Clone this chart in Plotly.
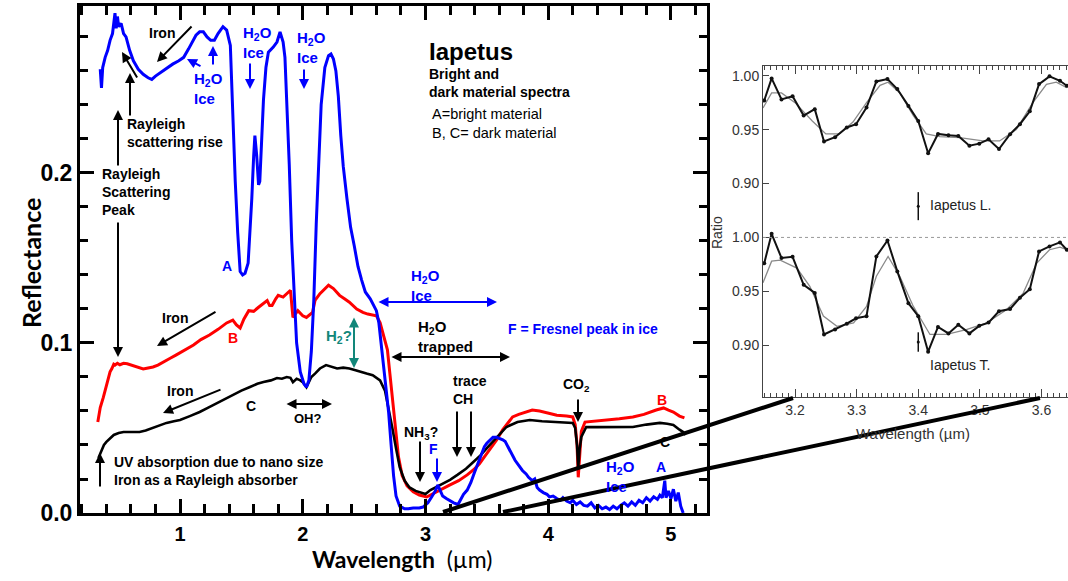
import plotly.graph_objects as go

W, H = 1068, 581

# ---------------- main spectra (wavelength um, reflectance) ----------------
a_x = [0.35, 0.36, 0.37, 0.39, 0.41, 0.43, 0.45, 0.46, 0.47, 0.48, 0.49, 0.50, 0.52, 0.54, 0.56, 0.59,
       0.62, 0.66, 0.70, 0.74, 0.77, 0.80, 0.84, 0.89, 0.94, 0.99, 1.03, 1.07, 1.10, 1.13, 1.16, 1.19,
       1.22, 1.25, 1.28, 1.31, 1.35, 1.38, 1.41, 1.42, 1.43, 1.45, 1.47, 1.49, 1.51, 1.53, 1.555, 1.57,
       1.585, 1.60, 1.61, 1.625, 1.64, 1.65, 1.665, 1.68, 1.70, 1.72, 1.76, 1.79, 1.815, 1.84, 1.855,
       1.87, 1.89, 1.91, 1.93, 1.95, 1.98, 2.01, 2.03, 2.05, 2.07, 2.09, 2.11, 2.13, 2.15, 2.18, 2.21,
       2.23, 2.25, 2.27, 2.29, 2.31, 2.33, 2.36, 2.39, 2.42, 2.45, 2.48, 2.51, 2.55, 2.60, 2.62, 2.64,
       2.67, 2.70, 2.72, 2.74, 2.76, 2.79, 2.83, 2.86, 2.90, 2.95, 2.98, 3.02, 3.05, 3.08, 3.10, 3.12,
       3.14, 3.17, 3.20, 3.23, 3.265, 3.29, 3.31, 3.34, 3.37, 3.40, 3.42, 3.45, 3.48, 3.50, 3.53, 3.55,
       3.58, 3.60, 3.63, 3.65, 3.68, 3.71, 3.73, 3.76, 3.79, 3.82, 3.84, 3.87, 3.89, 3.91, 3.93, 3.96,
       3.99, 4.01, 4.04, 4.07, 4.10, 4.12, 4.15, 4.18, 4.20, 4.23, 4.26, 4.29, 4.32, 4.35, 4.38, 4.41,
       4.44, 4.47, 4.50, 4.53, 4.56, 4.59, 4.62, 4.65, 4.68, 4.71, 4.74, 4.77, 4.80, 4.83, 4.86, 4.89,
       4.91, 4.93, 4.95, 4.96, 4.98, 5.00, 5.02, 5.04, 5.06, 5.08, 5.10]
a_y = [0.261, 0.250, 0.262, 0.268, 0.272, 0.278, 0.282, 0.289, 0.294, 0.285, 0.292, 0.286, 0.288, 0.282,
       0.280, 0.272, 0.266, 0.261, 0.258, 0.256, 0.255, 0.257, 0.259, 0.262, 0.264, 0.266, 0.268, 0.273,
       0.277, 0.281, 0.283, 0.283, 0.280, 0.278, 0.278, 0.282, 0.286, 0.284, 0.275, 0.255, 0.225, 0.195,
       0.165, 0.142, 0.140, 0.141, 0.147, 0.163, 0.185, 0.210, 0.222, 0.210, 0.193, 0.195, 0.220, 0.243,
       0.262, 0.271, 0.274, 0.277, 0.283, 0.277, 0.268, 0.245, 0.205, 0.160, 0.125, 0.100, 0.083, 0.076,
       0.074, 0.078, 0.095, 0.125, 0.170, 0.210, 0.240, 0.262, 0.269, 0.270, 0.267, 0.260, 0.245, 0.222,
       0.204, 0.185, 0.168, 0.157, 0.145, 0.137, 0.130, 0.126, 0.119, 0.112, 0.098, 0.078, 0.059, 0.040,
       0.022, 0.010, 0.004, 0.0025, 0.0025, 0.003, 0.003, 0.0035, 0.006, 0.0094, 0.013, 0.0165, 0.013,
       0.010, 0.0085, 0.007, 0.006, 0.005, 0.008, 0.011, 0.0135, 0.018, 0.024, 0.028, 0.034, 0.039, 0.041,
       0.043, 0.0445, 0.0445, 0.044, 0.043, 0.042, 0.038, 0.034, 0.031, 0.028, 0.025, 0.023, 0.021, 0.019,
       0.020, 0.015, 0.0135, 0.012, 0.011, 0.0095, 0.010, 0.0085, 0.0075, 0.009, 0.007, 0.006, 0.0075,
       0.005, 0.0065, 0.0045, 0.004, 0.006, 0.003, 0.0045, 0.0025, 0.0035, 0.002, 0.004, 0.0025, 0.0045,
       0.006, 0.004, 0.0065, 0.0045, 0.0075, 0.006, 0.009, 0.007, 0.0095, 0.008, 0.0105, 0.009, 0.019,
       0.009, 0.013, 0.0085, 0.014, 0.007, 0.012, 0.004, 0.0]

b_x = [0.33, 0.35, 0.375, 0.40, 0.415, 0.43, 0.445, 0.46, 0.47, 0.49, 0.51, 0.54, 0.57, 0.60, 0.62, 0.66,
       0.70, 0.74, 0.78, 0.82, 0.86, 0.92, 0.97, 1.04, 1.11, 1.17, 1.24, 1.31, 1.38, 1.43, 1.46, 1.49,
       1.52, 1.56, 1.60, 1.64, 1.67, 1.71, 1.73, 1.75, 1.78, 1.80, 1.84, 1.87, 1.90, 1.92, 1.96, 2.00,
       2.03, 2.08, 2.10, 2.14, 2.18, 2.21, 2.25, 2.30, 2.34, 2.38, 2.44, 2.49, 2.53, 2.57, 2.60, 2.63,
       2.66, 2.69, 2.71, 2.74, 2.76, 2.78, 2.81, 2.85, 2.90, 2.95, 3.01, 3.05, 3.09, 3.15, 3.20, 3.27,
       3.34, 3.40, 3.44, 3.48, 3.52, 3.58, 3.63, 3.67, 3.71, 3.76, 3.82, 3.87, 3.93, 3.99, 4.07, 4.15,
       4.20, 4.22, 4.235, 4.245, 4.255, 4.27, 4.30, 4.38, 4.47, 4.58, 4.69, 4.78, 4.88, 4.94, 4.98, 5.02,
       5.07, 5.11]
b_y = [0.0535, 0.062, 0.068, 0.075, 0.078, 0.083, 0.085, 0.0875, 0.087, 0.088, 0.0872, 0.088, 0.0878,
       0.087, 0.0865, 0.0858, 0.0847, 0.0853, 0.0859, 0.087, 0.0888, 0.091, 0.093, 0.096, 0.0988, 0.102,
       0.1047, 0.108, 0.1118, 0.1135, 0.1106, 0.1088, 0.114, 0.119, 0.1186, 0.121, 0.1225, 0.125, 0.122,
       0.122, 0.126, 0.128, 0.127, 0.129, 0.131, 0.115, 0.119, 0.116, 0.115, 0.118, 0.125, 0.129, 0.132,
       0.134, 0.132, 0.128, 0.126, 0.124, 0.120, 0.118, 0.117, 0.1165, 0.116, 0.112, 0.104, 0.096, 0.082,
       0.062, 0.048, 0.033, 0.022, 0.016, 0.0125, 0.0106, 0.0094, 0.011, 0.0124, 0.0145, 0.0165, 0.019,
       0.0224, 0.026, 0.029, 0.033, 0.037, 0.043, 0.049, 0.053, 0.0565, 0.058, 0.0594, 0.0606, 0.060,
       0.059, 0.0575, 0.057, 0.0565, 0.052, 0.040, 0.021, 0.035, 0.048, 0.0535, 0.054, 0.0547, 0.0555,
       0.0565, 0.058, 0.0606, 0.0618, 0.0605, 0.0594, 0.057, 0.0559]

c_x = [0.335, 0.36, 0.38, 0.40, 0.43, 0.46, 0.50, 0.54, 0.60, 0.67, 0.72, 0.78, 0.84, 0.89, 0.95, 1.00,
       1.08, 1.16, 1.23, 1.30, 1.37, 1.43, 1.50, 1.57, 1.63, 1.68, 1.74, 1.79, 1.83, 1.87, 1.90, 1.92,
       1.95, 1.98, 2.00, 2.03, 2.07, 2.10, 2.14, 2.19, 2.23, 2.28, 2.33, 2.38, 2.43, 2.47, 2.52, 2.57,
       2.63, 2.67, 2.70, 2.73, 2.76, 2.79, 2.83, 2.87, 2.92, 2.97, 3.00, 3.04, 3.12, 3.20, 3.26, 3.33,
       3.39, 3.45, 3.50, 3.58, 3.66, 3.75, 3.85, 3.95, 4.07, 4.20, 4.22, 4.235, 4.245, 4.255, 4.27, 4.31,
       4.40, 4.47, 4.58, 4.69, 4.80, 4.91, 4.97, 5.02, 5.07, 5.10, 5.12]
c_y = [0.0324, 0.037, 0.040, 0.0418, 0.044, 0.0459, 0.047, 0.0476, 0.0476, 0.0476, 0.0485, 0.050, 0.0515,
       0.053, 0.054, 0.0547, 0.057, 0.0594, 0.062, 0.0647, 0.067, 0.0694, 0.072, 0.0741, 0.076, 0.077,
       0.078, 0.0794, 0.079, 0.080, 0.0795, 0.077, 0.079, 0.078, 0.077, 0.074, 0.080, 0.082, 0.085, 0.087,
       0.086, 0.085, 0.0855, 0.085, 0.084, 0.083, 0.082, 0.081, 0.078, 0.072, 0.062, 0.050, 0.038, 0.027,
       0.019, 0.015, 0.013, 0.0118, 0.0112, 0.0135, 0.0165, 0.0195, 0.0224, 0.026, 0.030, 0.034, 0.0382,
       0.0447, 0.0506, 0.0535, 0.0547, 0.054, 0.0535, 0.053, 0.050, 0.040, 0.027, 0.037, 0.0447, 0.0506,
       0.0505, 0.0506, 0.0505, 0.0506, 0.052, 0.053, 0.0525, 0.0518, 0.049, 0.0476, 0.046]

# ---------------- inset (3 um band ratio spectra) ----------------
ins_x = [3.150, 3.162, 3.178, 3.196, 3.214, 3.232, 3.247, 3.265, 3.284, 3.299, 3.316, 3.332, 3.350,
         3.366, 3.384, 3.400, 3.416, 3.432, 3.449, 3.465, 3.483, 3.499, 3.514, 3.531, 3.549, 3.565,
         3.581, 3.596, 3.613, 3.630, 3.641]
ins_L = [0.977, 0.9975, 0.978, 0.981, 0.963, 0.969, 0.939, 0.943, 0.952, 0.955, 0.9705, 0.9947, 0.9969,
         0.9876, 0.972, 0.958, 0.928, 0.946, 0.9447, 0.944, 0.935, 0.937, 0.941, 0.932, 0.9457, 0.955,
         0.967, 0.9922, 0.9994, 0.9953, 0.9907]
ins_T = [0.976, 1.0034, 0.981, 0.982, 0.956, 0.9485, 0.910, 0.9145, 0.920, 0.925, 0.927, 0.9824, 0.9972,
         0.9685, 0.939, 0.927, 0.894, 0.917, 0.911, 0.919, 0.911, 0.918, 0.921, 0.9315, 0.9336, 0.944,
         0.952, 0.987, 0.9917, 0.9954, 0.9886]
fitL_x = [3.148, 3.162, 3.178, 3.200, 3.228, 3.250, 3.272, 3.294, 3.316, 3.338, 3.351, 3.370, 3.392,
          3.413, 3.435, 3.467, 3.505, 3.532, 3.559, 3.586, 3.608, 3.624, 3.641]
fitL_y = [0.970, 0.984, 0.984, 0.975, 0.958, 0.946, 0.946, 0.957, 0.975, 0.991, 0.994, 0.984, 0.963,
          0.946, 0.9435, 0.9425, 0.9395, 0.9395, 0.950, 0.975, 0.992, 0.994, 0.989]
fitT_x = [3.148, 3.162, 3.176, 3.203, 3.224, 3.246, 3.268, 3.295, 3.316, 3.332, 3.351, 3.370, 3.392,
          3.419, 3.446, 3.478, 3.511, 3.543, 3.570, 3.592, 3.613, 3.630, 3.641]
fitT_y = [0.958, 0.978, 0.979, 0.9716, 0.9546, 0.927, 0.9176, 0.9207, 0.936, 0.964, 0.9824, 0.964,
          0.936, 0.910, 0.910, 0.9145, 0.9207, 0.933, 0.948, 0.976, 0.9886, 0.991, 0.9886]
L_offset = 0.15          # upper spectrum is shifted up on the shared ratio axis
err_x = [3.40, 3.40]
err_y = [0.879, 0.903]   # Iapetus L., Iapetus T.
err_e = [0.013, 0.009]

ins_tickvals = [0.85, 0.90, 0.95, 1.00, 1.05, 1.10, 1.15]
ins_ticktext = ["0.85", "0.90", "0.95", "1.00", "0.90", "0.95", "1.00"]

# ---------------- figure ----------------
fig = go.Figure()
fig.add_trace(go.Scatter(x=b_x, y=b_y, mode="lines", line=dict(color="#ff0000", width=3)))
fig.add_trace(go.Scatter(x=c_x, y=c_y, mode="lines", line=dict(color="#000000", width=2.6)))
fig.add_trace(go.Scatter(x=a_x, y=a_y, mode="lines", line=dict(color="#0000ff", width=3)))

fig.add_trace(go.Scatter(x=fitL_x, y=[v + L_offset for v in fitL_y], mode="lines",
                         line=dict(color="#8a8a8a", width=1.3), xaxis="x2", yaxis="y2"))
fig.add_trace(go.Scatter(x=fitT_x, y=fitT_y, mode="lines",
                         line=dict(color="#8a8a8a", width=1.3), xaxis="x2", yaxis="y2"))
fig.add_trace(go.Scatter(x=ins_x, y=[v + L_offset for v in ins_L], mode="lines+markers",
                         line=dict(color="#111111", width=2), marker=dict(size=4, color="#111111"),
                         xaxis="x2", yaxis="y2"))
fig.add_trace(go.Scatter(x=ins_x, y=ins_T, mode="lines+markers",
                         line=dict(color="#111111", width=2), marker=dict(size=4, color="#111111"),
                         xaxis="x2", yaxis="y2"))
fig.add_trace(go.Scatter(x=err_x, y=[err_y[0] + L_offset, err_y[1]], mode="markers",
                         marker=dict(size=3, color="#111111"),
                         error_y=dict(type="data", array=err_e, color="#111111", thickness=1.5, width=0),
                         xaxis="x2", yaxis="y2"))

# main axes box (pixels)
L, R, T, B = 80, 707, 6, 513
xr = [0.185, 5.294]
yr = [0.0, 0.2982]
IL, IR, IT, IB = 763, 1068, 66, 397

axis_common = dict(showline=True, linecolor="black", linewidth=3, mirror="allticks",
                   ticks="inside", tickwidth=2.5, tickcolor="black", showgrid=False, zeroline=False,
                   automargin=False)

fig.update_layout(
    width=W, height=H, margin=dict(l=0, r=0, t=0, b=0, pad=0, autoexpand=False),
    paper_bgcolor="white", plot_bgcolor="white", showlegend=False,
    xaxis=dict(domain=[L / W, R / W], range=xr, anchor="y", dtick=1, tick0=0, ticklen=14,
               minor=dict(ticks="inside", dtick=0.2, tick0=0, ticklen=9, tickwidth=2.5, tickcolor="black"),
               tickfont=dict(family="Liberation Sans, Arial", size=20, color="black", weight="bold"),
               ticklabelstandoff=1, **axis_common),
    yaxis=dict(domain=[1 - B / H, 1 - T / H], range=yr, anchor="x", dtick=0.1, tick0=0, ticklen=14,
               tickformat=".1f",
               minor=dict(ticks="inside", dtick=0.02, tick0=0, ticklen=8, tickwidth=2.5, tickcolor="black"),
               tickfont=dict(family="Liberation Sans, Arial", size=23, color="black", weight="bold"),
               **axis_common),
    xaxis2=dict(domain=[IL / W, IR / W], range=[3.148, 3.643], anchor="y2", dtick=0.1, tick0=3.0,
                ticks="inside", ticklen=8, tickwidth=1, tickcolor="#444", showline=True, linecolor="#444",
                linewidth=1, mirror="allticks", showgrid=False, zeroline=False, tickformat=".1f",
                automargin=False,
                minor=dict(ticks="inside", dtick=0.01, tick0=3.0, ticklen=4, tickwidth=1, tickcolor="#444"),
                tickfont=dict(family="Liberation Sans, Arial", size=14, color="#333")),
    yaxis2=dict(domain=[1 - IB / H, 1 - IT / H], range=[0.852, 1.159], anchor="x2",
                tickvals=ins_tickvals, ticktext=ins_ticktext, ticks="inside", ticklen=6, tickwidth=1,
                tickcolor="#444", showline=True, linecolor="#444", linewidth=1, mirror=False,
                showgrid=False, zeroline=False, automargin=False,
                tickfont=dict(family="Liberation Sans, Arial", size=14, color="#333")),
)

# dotted reference line at ratio 1.00 (lower spectrum)
fig.add_shape(type="line", xref="x2 domain", yref="y2", x0=0, x1=1, y0=1.0, y1=1.0,
              line=dict(color="#999", width=1, dash="dot"))


def P(px, py):
    return px / W, 1 - py / H


# zoom connector lines
for (x0, y0, x1, y1) in [(443, 512, 793, 398), (503, 512, 1040, 398)]:
    a0, b0 = P(x0, y0)
    a1, b1 = P(x1, y1)
    fig.add_shape(type="line", xref="paper", yref="paper", x0=a0, y0=b0, x1=a1, y1=b1,
                  line=dict(color="black", width=4), layer="above")

FONT = "Liberation Sans, Arial, sans-serif"
BLUE, RED, BLACK, TEAL = "#0000ff", "#ff0000", "#000000", "#12877a"


def text(t, px, py, color=BLACK, size=14, anchor="left", bold=True, align=None, family=FONT, angle=0):
    x, y = P(px, py)
    fig.add_annotation(x=x, y=y, xref="paper", yref="paper", text=t, showarrow=False,
                       xanchor=anchor, yanchor="middle", align=align or anchor, textangle=angle,
                       font=dict(family=family, size=size, color=color, weight="bold" if bold else "normal"))


def arrow(x0, y0, x1, y1, color=BLACK, both=False, width=2):
    x, y = P(x1, y1)
    fig.add_annotation(x=x, y=y, xref="paper", yref="paper", ax=x0 - x1, ay=y0 - y1, text="",
                       showarrow=True, arrowhead=2, startarrowhead=2, arrowsize=1, startarrowsize=1,
                       arrowwidth=width, arrowcolor=color, arrowside="end+start" if both else "end",
                       standoff=0, startstandoff=0)


H2O = "H<sub>2</sub>O<br>Ice"
# upper left
text("Iron", 162, 33, anchor="center")
arrow(193, 25, 157, 62)
text("Rayleigh<br>scattering rise", 125, 133)
arrow(130, 117, 130, 73)
arrow(138, 79, 122, 52)
text("Rayleigh<br>Scattering<br>Peak", 100, 192)
arrow(118, 167, 118, 110)
arrow(118, 221, 118, 357)
text(H2O, 192, 88, color=BLUE, size=15)
arrow(202, 67, 187, 59, color=BLUE)
arrow(213, 66, 213, 46, color=BLUE)
text(H2O, 241, 42, color=BLUE, size=15)
arrow(250, 62, 250, 89, color=BLUE)
text(H2O, 295, 48, color=BLUE, size=15)
arrow(304, 68, 304, 89, color=BLUE)
text("A", 227, 266, color=BLUE, anchor="center")

# title block
text("Iapetus", 427, 51, size=24)
text("Bright and<br>dark material spectra", 427, 83, size=14)
text("A=bright material<br>B, C= dark material", 430, 124, size=14.5, bold=False)

# middle
text(H2O, 409, 285, color=BLUE, size=15)
arrow(377, 302, 497, 302, color=BLUE, both=True)
text("H<sub>2</sub>O<br>trapped", 416, 337, size=15)
arrow(390, 357, 510, 357, both=True)
text("F = Fresnel peak in ice", 506, 329, color=BLUE, size=14)
text("H<sub>2</sub>?", 324, 336, color=TEAL, size=15)
arrow(354, 316, 354, 368, color=TEAL, both=True)

# lower left
text("Iron", 175, 318, anchor="center")
arrow(217, 311, 157, 346)
text("B", 233, 338, color=RED, anchor="center")
text("Iron", 180, 391, anchor="center")
arrow(222, 389, 163, 413)
text("C", 251, 406, anchor="center")
text("OH?", 308, 418, anchor="center", size=13)
arrow(285, 404, 332, 404, both=True)
text("UV absorption due to nano size<br>Iron as a Rayleigh absorber", 112, 471)
arrow(100, 488, 100, 453)

# lower right
text("NH<sub>3</sub>?", 402, 433, size=14)
arrow(420, 440, 420, 482)
text("F", 433, 449, color=BLUE, anchor="center")
arrow(437, 457, 437, 482, color=BLUE)
text("trace<br>CH", 451, 390)
arrow(457, 410, 457, 457)
arrow(471, 410, 471, 457)
text("CO<sub>2</sub>", 561, 385)
arrow(578, 398, 578, 422)
text("B", 662, 400, color=RED, anchor="center")
text("C", 665, 442, anchor="center")
text(H2O, 604, 477, color=BLUE, size=15)
text("A", 661, 467, color=BLUE, anchor="center")

# main axis titles
text("Reflectance", 31, 263, size=25, anchor="center", angle=-90, family="Lato, Liberation Sans")
text("<b>Wavelength</b>  (\u00b5m)", 402, 559, size=23, anchor="center", bold=False,
     family="Lato, Liberation Sans")

# inset texts
text("Iapetus L.", 928, 205, color="#222", size=14, bold=False)
text("Iapetus T.", 928, 365, color="#222", size=14, bold=False)
text("Ratio", 717, 233, color="#333", size=14, bold=False, anchor="center", angle=-90)
text("Wavelength (\u00b5m)", 913, 433, color="#333", size=15, bold=False, anchor="center")

fig.write_html("out.html", config={"displayModeBar": False},
               post_script="document.body.style.margin='0';document.body.style.overflow='hidden';")
